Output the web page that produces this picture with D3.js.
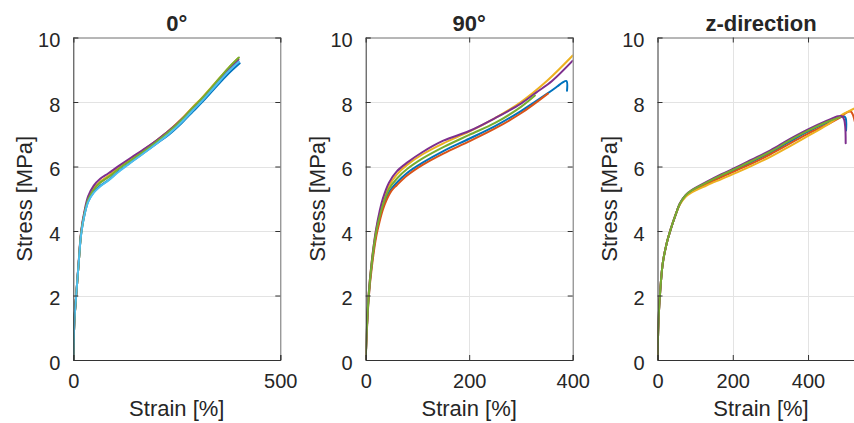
<!DOCTYPE html>
<html>
<head>
<meta charset="utf-8">
<script src="https://cdn.jsdelivr.net/npm/d3@7"></script>
<style>
  html, body { margin: 0; padding: 0; background: #ffffff; }
  svg { display: block; }
  text { font-family: "Liberation Sans", Arial, Helvetica, sans-serif; fill: #262626; }
</style>
</head>
<body>
<svg id="chart" width="854" height="423"></svg>
<script>
// Tensile test curves: stress [MPa] against strain [%] for three specimen orientations.
// Each specimen is a list of [strain, stress] points.

// ---- 0° specimens ----
const deg0_s1 = [[0,0],[1,0.6],[3,1.3],[7,2.0],[13,3.0],[19,3.9],[27,4.5],[36,4.92],[49,5.2],[65,5.4],[85,5.58],[110,5.86],[140,6.14],[170,6.42],[200,6.7],[230,6.98],[262,7.35],[290,7.72],[310,7.98],[340,8.4],[375,8.88],[402,9.2]];
const deg0_s2 = [[0,0],[1,0.6],[3,1.3],[7,2.0],[13,3.0],[19,3.95],[27,4.55],[36,5.0],[49,5.3],[65,5.52],[85,5.7],[110,5.96],[140,6.24],[170,6.52],[200,6.8],[230,7.1],[262,7.48],[290,7.85],[310,8.1],[340,8.53],[375,9.02],[397,9.3]];
const deg0_s3 = [[0,0],[1,0.6],[3,1.3],[7,2.0],[13,3.0],[19,3.95],[27,4.55],[36,5.0],[49,5.31],[65,5.53],[85,5.71],[110,5.96],[140,6.23],[170,6.5],[200,6.78],[230,7.1],[262,7.47],[290,7.86],[310,8.12],[340,8.55],[375,9.06],[398,9.36]];
const deg0_s4 = [[0,0],[1,0.6],[3,1.3],[7,2.0],[13,3.05],[19,4.0],[27,4.62],[36,5.08],[49,5.4],[65,5.62],[85,5.79],[110,6.02],[140,6.28],[170,6.53],[200,6.8],[230,7.1],[262,7.46],[290,7.83],[310,8.08],[340,8.5],[375,9.0],[399,9.32]];
const deg0_s5 = [[0,0],[1,0.6],[3,1.3],[7,2.0],[13,3.0],[19,3.95],[27,4.55],[36,4.98],[49,5.28],[65,5.5],[85,5.67],[110,5.93],[140,6.2],[170,6.47],[200,6.76],[230,7.07],[262,7.45],[290,7.84],[310,8.1],[340,8.54],[375,9.06],[400,9.38]];
const deg0_s6 = [[0,0],[1,0.6],[3,1.3],[7,2.0],[13,3.0],[19,3.9],[27,4.5],[36,4.9],[49,5.18],[65,5.38],[85,5.57],[110,5.84],[140,6.13],[170,6.41],[200,6.7],[230,7.0],[262,7.38],[290,7.76],[310,8.02],[340,8.45],[375,8.95],[400,9.25]];

// ---- 90° specimens ----
const deg90_s1 = [[0,0],[2,0.85],[6,2.0],[12,3.0],[20,3.9],[27,4.4],[33,4.75],[45,5.2],[60,5.5],[80,5.8],[110,6.12],[150,6.48],[200,6.86],[250,7.25],[300,7.72],[350,8.25],[370,8.48],[380,8.6],[388,8.65],[389,8.35]];
const deg90_s2 = [[0,0],[2,0.8],[6,1.95],[12,2.9],[20,3.8],[27,4.3],[33,4.65],[40,4.95],[50,5.25],[60,5.42],[80,5.72],[110,6.05],[150,6.4],[200,6.78],[250,7.18],[300,7.65],[352,8.26]];
const deg90_s3 = [[0,0],[2,0.9],[6,2.1],[12,3.1],[20,4.0],[27,4.52],[33,4.9],[45,5.4],[60,5.75],[80,6.05],[110,6.38],[150,6.72],[200,7.08],[250,7.5],[300,8.0],[350,8.65],[400,9.44]];
const deg90_s4 = [[0,0],[2,0.9],[6,2.1],[12,3.1],[20,4.05],[27,4.62],[33,5.0],[45,5.5],[60,5.85],[80,6.12],[110,6.45],[150,6.8],[200,7.1],[250,7.5],[300,7.95],[330,8.3],[360,8.65],[400,9.28]];
const deg90_s5 = [[0,0],[2,0.9],[6,2.05],[12,3.05],[20,3.95],[27,4.45],[33,4.8],[45,5.3],[60,5.62],[80,5.92],[110,6.25],[150,6.6],[200,6.98],[250,7.35],[300,7.85],[327,8.2]];

// ---- z-direction specimens ----
const dirZ_s1 = [[0,0],[3,1.3],[7,2.1],[14,3.0],[24,3.6],[35,4.05],[48,4.5],[60,4.85],[75,5.1],[90,5.23],[130,5.47],[170,5.7],[210,5.92],[250,6.14],[300,6.43],[350,6.76],[400,7.08],[450,7.35],[480,7.5],[495,7.56],[500,7.5],[501,7.12]];
const dirZ_s2 = [[0,0],[3,1.3],[7,2.1],[14,3.0],[24,3.6],[35,4.05],[48,4.5],[60,4.85],[75,5.09],[90,5.22],[130,5.45],[170,5.67],[210,5.88],[250,6.09],[300,6.38],[350,6.7],[400,7.02],[450,7.3],[480,7.48],[496,7.62],[507,7.7],[514,7.7],[520,7.58],[524,7.4]];
const dirZ_s3 = [[0,0],[3,1.3],[7,2.1],[14,3.0],[24,3.6],[35,4.05],[48,4.5],[60,4.83],[75,5.06],[90,5.19],[130,5.41],[170,5.61],[210,5.81],[250,6.02],[300,6.3],[350,6.62],[400,6.95],[450,7.28],[487,7.58],[526,7.82],[545,7.94]];
const dirZ_s4 = [[0,0],[3,1.3],[7,2.1],[14,3.0],[24,3.6],[35,4.05],[48,4.5],[60,4.87],[75,5.12],[90,5.26],[130,5.52],[170,5.76],[210,5.98],[250,6.21],[300,6.5],[350,6.84],[400,7.15],[450,7.42],[480,7.56],[490,7.56],[496,7.45],[499,7.2],[500,6.72]];
const dirZ_s5 = [[0,0],[3,1.3],[7,2.1],[14,3.0],[24,3.6],[35,4.05],[48,4.5],[60,4.86],[75,5.11],[90,5.25],[130,5.5],[170,5.73],[210,5.95],[250,6.17],[300,6.46],[350,6.8],[400,7.11],[450,7.38],[485,7.53]];

// Panels: title, x-axis limit, x ticks, specimens (draw order)
const panelTitles = ["0°", "90°", "z-direction"];
const strainMax = [500, 400, 550];
const strainTicks = [[0, 500], [0, 200, 400], [0, 200, 400]];
const stressTicks = [0, 2, 4, 6, 8, 10];
const panelCurves = [
  [deg0_s1, deg0_s2, deg0_s3, deg0_s4, deg0_s5, deg0_s6],
  [deg90_s1, deg90_s2, deg90_s3, deg90_s4, deg90_s5],
  [dirZ_s1, dirZ_s2, dirZ_s3, dirZ_s4, dirZ_s5]
];
const lineColors = ["#0072BD", "#D95319", "#EDB120", "#7E2F8E", "#77AC30", "#4DBEEE"];

const svg = d3.select("#chart");
svg.append("rect").attr("width", 854).attr("height", 423).attr("fill", "#ffffff");

const plotLefts = [73.3, 365.7, 657.5];
const plotW = 207, plotTop = 37.5, plotBottom = 360;

panelTitles.forEach((title, i) => {
  const left = plotLefts[i];
  const x = d3.scaleLinear().domain([0, strainMax[i]]).range([left, left + plotW]);
  const y = d3.scaleLinear().domain([0, 10]).range([plotBottom, plotTop]);
  const g = svg.append("g");

  // grid
  const grid = g.append("g").attr("stroke", "#e3e3e3").attr("stroke-width", 1);
  stressTicks.filter(t => t > 0 && t < 10).forEach(t => {
    grid.append("line").attr("x1", left).attr("x2", left + plotW)
      .attr("y1", Math.round(y(t)) + 0.5).attr("y2", Math.round(y(t)) + 0.5);
  });
  strainTicks[i].filter(t => t > 0 && t < strainMax[i]).forEach(t => {
    grid.append("line").attr("x1", Math.round(x(t)) + 0.5).attr("x2", Math.round(x(t)) + 0.5)
      .attr("y1", plotTop).attr("y2", plotBottom);
  });

  // curves
  const clipId = "clip" + i;
  svg.append("clipPath").attr("id", clipId).append("rect")
    .attr("x", left).attr("y", plotTop - 2).attr("width", plotW).attr("height", plotBottom - plotTop + 2);
  const line = d3.line().x(d => x(d[0])).y(d => y(d[1])).curve(d3.curveCatmullRom.alpha(0.5));
  const cg = g.append("g").attr("clip-path", `url(#${clipId})`);
  panelCurves[i].forEach((pts, k) => {
    cg.append("path").attr("d", line(pts)).attr("fill", "none")
      .attr("stroke", lineColors[k]).attr("stroke-width", 2)
      .attr("stroke-linejoin", "round").attr("stroke-linecap", "round");
  });

  // axes (inward ticks, mirrored on the box)
  const tickLen = 5;
  const yAxisL = d3.axisLeft(y).tickValues(stressTicks).tickSize(-tickLen).tickPadding(8 + tickLen).tickFormat(d3.format("d"));
  const yAxisR = d3.axisRight(y).tickValues(stressTicks).tickSize(-tickLen).tickFormat("");
  const xAxisB = d3.axisBottom(x).tickValues(strainTicks[i]).tickSize(-tickLen).tickPadding(9 + tickLen).tickFormat(d3.format("d"));
  const xAxisT = d3.axisTop(x).tickValues(strainTicks[i]).tickSize(-tickLen).tickFormat("");

  const ax = [
    g.append("g").attr("transform", `translate(${left},0)`).call(yAxisL),
    g.append("g").attr("transform", `translate(${left + plotW},0)`).call(yAxisR),
    g.append("g").attr("transform", `translate(0,${plotBottom})`).call(xAxisB),
    g.append("g").attr("transform", `translate(0,${plotTop})`).call(xAxisT)
  ];
  ax.forEach((a, k) => {
    a.select(".domain").attr("stroke", k < 1 || k == 2 ? "#333333" : "#6e6e6e").attr("stroke-width", 1);
    a.selectAll(".tick line").attr("stroke", "#333333");
    a.selectAll("text").style("font-size", "20px").attr("fill", "#262626");
  });
  ax[0].selectAll("text").attr("dy", "0.45em");

  // title and axis labels
  g.append("text").attr("x", left + plotW / 2).attr("y", 31).attr("text-anchor", "middle")
    .style("font-size", "22px").style("font-weight", "bold").text(title);
  g.append("text").attr("x", left + plotW / 2).attr("y", 416).attr("text-anchor", "middle")
    .style("font-size", "22px").text("Strain [%]");
  g.append("text").attr("transform", `translate(${left - 41},${(plotTop + plotBottom) / 2}) rotate(-90)`)
    .attr("text-anchor", "middle").style("font-size", "22px").text("Stress [MPa]");
});
</script>
</body>
</html>
